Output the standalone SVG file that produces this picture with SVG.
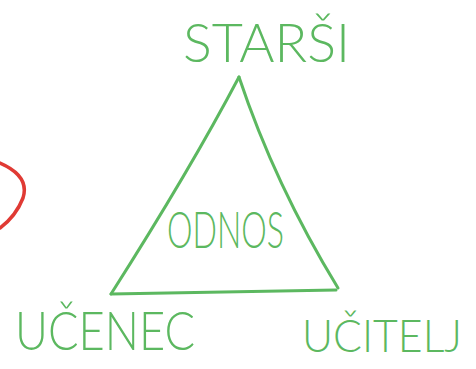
<svg xmlns="http://www.w3.org/2000/svg" width="476" height="369" viewBox="0 0 476 369">
  <style>
    .lbl { font-family: "Lato", "Open Sans", "Liberation Sans", Arial, sans-serif; fill: #5cb860; font-weight: 300; }
    .edge { fill: none; stroke: #5cb860; stroke-width: 3; stroke-linecap: round; stroke-linejoin: round; }
  </style>
  <rect width="476" height="369" fill="#ffffff"/>
  <path d="M0,163 Q30,176 23,198 Q16,216 0,228" fill="none" stroke="#e03a34" stroke-width="3.5" stroke-linecap="round"/>
  <g id="connectors">
    <path class="edge" d="M239,77 Q190,170 111,294"/>
    <path class="edge" d="M239,77 Q275,185 338,288"/>
    <path class="edge" d="M111,294 L336,290"/>
  </g>
  <g id="starsi">
    <text class="lbl" x="183" y="62" font-size="54" textLength="167" lengthAdjust="spacingAndGlyphs">STARŠI</text>
  </g>
  <g id="odnos">
    <text class="lbl" x="167" y="248" font-size="52" textLength="117" lengthAdjust="spacingAndGlyphs">ODNOS</text>
  </g>
  <g id="ucenec">
    <text class="lbl" x="15" y="350" font-size="54" textLength="180" lengthAdjust="spacingAndGlyphs">UČENEC</text>
  </g>
  <g id="ucitelj">
    <text class="lbl" x="302" y="352" font-size="45" textLength="160" lengthAdjust="spacingAndGlyphs">UČITELJ</text>
  </g>
</svg>
